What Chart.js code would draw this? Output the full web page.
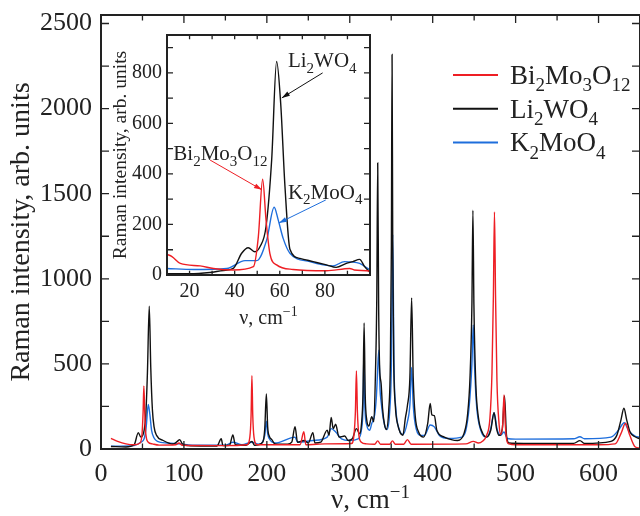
<!DOCTYPE html>
<html>
<head>
<meta charset="utf-8">
<script src="https://cdn.jsdelivr.net/npm/chart.js@4.4.0/dist/chart.umd.min.js"></script>
<style>
html, body { margin: 0; padding: 0; background: #fff; overflow: hidden; }
#wrap { position: relative; width: 640px; height: 516px; }
#main { position: absolute; left: 0; top: 0; }
#inset { position: absolute; left: 100px; top: 25px; }
</style>
</head>
<body>
<div id="wrap">
  <canvas id="main" width="640" height="516"></canvas>
  <canvas id="inset" width="280" height="315"></canvas>
</div>
<script>
// sample names, legend order
const names = ['Bi2Mo3O12', 'Li2WO4', 'K2MoO4'];
const colors = ['rgb(238,30,36)', '#111111', 'rgb(30,110,220)'];

// main spectrum: [wavenumber cm-1, intensity]
const bi2mo3o12 = [[12,63],[20,45],[30,30],[40,25],[47,35],[49.5,90],[50.8,220],[51.7,370],[52.7,220],[54,90],[57,40],[62,30],[70,23],[90,25],[94,35],[98,22],[150,20],[176,25],[179.5,70],[181,200],[182,430],[183,200],[184.5,70],[188,25],[200,25],[240,25],[244.6,101],[247,25],[260,28],[270,30],[302,32],[305,80],[306.8,220],[308,458],[309.2,220],[311,80],[314,40],[320,30],[330,28],[333.7,48],[337,28],[348,28],[351.5,48],[355,28],[365,28],[369.5,55],[374,28],[440,30],[449,45],[455,35],[460,45],[465,80],[469,180],[471.5,450],[473.2,900],[474.5,1393],[475.8,900],[477.5,400],[480,150],[482,85],[484.5,150],[486,317],[487.5,150],[489,60],[492,30],[500,25],[600,25],[620,30],[627,90],[632.6,151],[637,90],[644,13],[650,5]];

const li2wo4 = [[12,15],[30,12],[40,25],[45,96],[48,70],[52,110],[54,200],[56,450],[58.2,839],[60,480],[62,230],[64,130],[67,80],[75,50],[87,29],[92,45],[95,55],[98,30],[105,20],[120,18],[140,18],[145,60],[147,20],[155,22],[159,82],[162,25],[175,22],[182,45],[185,22],[195,40],[197.5,120],[199.4,323],[201,130],[203,75],[206,55],[210,30],[225,28],[230,40],[234,131],[237,40],[245,50],[250,35],[255.5,96],[258,35],[265,40],[272.8,111],[275,80],[277.6,186],[280,120],[283,145],[287,70],[294,76],[298,50],[303,60],[308,120],[312,90],[314,140],[316,330],[317.3,741],[318.6,320],[320.5,170],[323,135],[326.5,190],[329,160],[331,450],[332.6,900],[333.7,1680],[334.8,850],[336,480],[337.8,385],[339.5,240],[342,140],[344,115],[347,230],[349,520],[350.2,1200],[351,2318],[351.8,1200],[353,520],[355,250],[358,140],[361,95],[364,80],[367,180],[369.5,254],[372.5,420],[374.6,888],[376.5,420],[379,190],[383,100],[389,70],[394,150],[397,268],[399,200],[402,196],[405,110],[414,70],[430,50],[438,95],[442,200],[445,420],[447.3,850],[448.5,1403],[449.7,850],[452,380],[455,190],[460,95],[465,70],[470,110],[474,213],[477,120],[480,80],[484,120],[486.6,311],[489,80],[492,35],[510,33],[570,33],[577.6,49],[583,33],[615,45],[622,80],[627,170],[630.6,239],[634,170],[638,100],[644,72],[650,60]];

const k2moo4 = [[12,17],[40,20],[48,40],[52,60],[54.5,130],[57,262],[59,200],[61,110],[64,65],[68,45],[80,35],[95,30],[110,22],[150,22],[159,40],[170,25],[182,40],[190,28],[197.5,80],[199.4,164],[201,90],[203,60],[210,35],[234,70],[237,40],[255.5,50],[272.8,70],[277.6,120],[283,100],[290,60],[300,50],[310,60],[314,110],[316,250],[317,561],[318.3,240],[320.5,140],[324,110],[326.5,150],[330,200],[332,300],[333.5,450],[335,581],[336.5,350],[338,270],[340,190],[343,125],[345,115],[348,210],[350.2,500],[351.8,1262],[353.3,500],[355.5,240],[360,110],[364,85],[369.5,160],[372.5,260],[374.6,479],[376.5,260],[380,120],[386,80],[390,80],[397,141],[402,130],[408,80],[420,62],[435,70],[440,110],[444,250],[447.3,500],[448.9,728],[450.5,480],[453,250],[458,110],[465,70],[470,120],[474,213],[478,110],[482,80],[486,100],[490,62],[500,58],[570,60],[577.6,72],[583,60],[615,70],[624,110],[631,154],[636,110],[644,75],[650,70]];

// inset: low-frequency region
const bi2mo3o12Low = [[10,82],[12.2,73],[15.9,46],[24.7,36],[30.6,26],[39.4,20],[48.3,33],[50.5,152],[52.4,379],[53.9,218],[55.6,86],[58.6,40],[65.9,22],[80.7,17],[91,26],[93,20],[98.5,17],[100,15]];
const li2wo4Low = [[10,5],[20,5],[29,10],[35,18],[39.4,26],[43.1,86],[46,108],[49,92],[51.2,112],[53.9,191],[56.4,455],[58.6,845],[60.4,680],[62.3,350],[64.5,102],[68.9,66],[74.8,53],[80.7,40],[85,30],[89.5,46],[92.4,53],[95.4,62],[97.6,33],[100,10]];
const k2moo4Low = [[10,26],[21.8,22],[36.5,26],[44.6,57],[49.8,57],[54.2,139],[57.5,268],[59.3,218],[61.5,145],[64.5,86],[73.3,53],[83.6,36],[88.7,53],[95.4,46],[99,26],[100,20]];

// tick labels
const xTickLabels = [0, 100, 200, 300, 400, 500, 600];
const yTickLabels = [0, 500, 1000, 1500, 2000, 2500];
const xTickLabelsLow = [20, 40, 60, 80];
const yTickLabelsLow = [0, 200, 400, 600, 800];

// inset labels: [name, nu, intensity at text] and arrows [from nu, from I, to nu, to I]
const insetLabels = [['Li2WO4', 63.6, 851], ['Bi2Mo3O12', 12.8, 483], ['K2MoO4', 63.6, 329]];
const insetArrows = [[79, 800, 60.9, 701], [29.1, 455, 52.1, 337], [80.4, 297, 59.6, 206]];

const SERIF = '"Liberation Serif", "Times New Roman", serif';
const INK = '#222';

// draw formula with digits as subscripts, y = visual centre of capitals
function drawFormula(ctx, text, x, y, size, align) {
  const parts = text.match(/\d+|\D+/g);
  const sub = Math.round(size * 0.72);
  const isSub = p => /\d/.test(p[0]);
  let w = 0;
  parts.forEach(p => { ctx.font = (isSub(p) ? sub : size) + 'px ' + SERIF; w += ctx.measureText(p).width; });
  let cx = align === 'center' ? x - w / 2 : (align === 'right' ? x - w : x);
  const base = y + size * 0.33;
  ctx.textAlign = 'left';
  ctx.textBaseline = 'alphabetic';
  parts.forEach(p => {
    ctx.font = (isSub(p) ? sub : size) + 'px ' + SERIF;
    ctx.fillText(p, cx, base + (isSub(p) ? size * 0.27 : 0));
    cx += ctx.measureText(p).width;
  });
}

function drawUnit(ctx, x, y, size) {
  const a = 'ν, cm', b = '−1';
  const sup = Math.round(size * 0.72);
  ctx.font = size + 'px ' + SERIF;
  const wa = ctx.measureText(a).width;
  ctx.font = sup + 'px ' + SERIF;
  const wb = ctx.measureText(b).width;
  let cx = x - (wa + wb) / 2;
  const base = y + size * 0.2;
  ctx.textAlign = 'left';
  ctx.textBaseline = 'alphabetic';
  ctx.font = size + 'px ' + SERIF;
  ctx.fillText(a, cx, base);
  ctx.font = sup + 'px ' + SERIF;
  ctx.fillText(b, cx + wa, base - size * 0.38);
}

// frame with inward ticks on all four sides
function framePlugin(o) {
  return {
    id: 'frame',
    beforeDraw(chart) {
      if (!o.fill) return;
      const a = chart.chartArea, ctx = chart.ctx;
      ctx.save();
      ctx.fillStyle = '#fff';
      ctx.fillRect(a.left, a.top, a.right - a.left, a.bottom - a.top);
      ctx.restore();
    },
    afterDatasetsDraw(chart) {
      const { ctx, chartArea: a, scales: { x, y } } = chart;
      ctx.save();
      ctx.strokeStyle = INK;
      ctx.lineWidth = 1.3;
      ctx.beginPath();
      for (let v = Math.ceil(x.min / o.xStep) * o.xStep; v <= x.max; v += o.xStep) {
        const px = x.getPixelForValue(v);
        const len = (o.xMajor && v % o.xMajor === 0) ? o.len : o.len * 0.7;
        ctx.moveTo(px, a.bottom); ctx.lineTo(px, a.bottom - len);
        ctx.moveTo(px, a.top); ctx.lineTo(px, a.top + len);
      }
      for (let v = Math.ceil(y.min / o.yStep) * o.yStep; v <= y.max; v += o.yStep) {
        const py = y.getPixelForValue(v);
        ctx.moveTo(a.left, py); ctx.lineTo(a.left + o.len, py);
        ctx.moveTo(a.right, py); ctx.lineTo(a.right - o.len, py);
      }
      ctx.stroke();
      ctx.lineWidth = o.lw;
      ctx.strokeRect(a.left, a.top, a.right - a.left, a.bottom - a.top);
      ctx.fillStyle = INK;
      drawUnit(ctx, (a.left + a.right) / 2, o.unitY, o.unitSize);
      ctx.restore();
    }
  };
}

const legendPlugin = {
  id: 'formulaLegend',
  afterDraw(chart) {
    const ctx = chart.ctx;
    ctx.save();
    chart.data.datasets.forEach((ds, i) => {
      const y = 75 + i * 33.7;
      ctx.strokeStyle = ds.borderColor;
      ctx.lineWidth = 2;
      ctx.beginPath(); ctx.moveTo(453, y); ctx.lineTo(498, y); ctx.stroke();
      ctx.fillStyle = INK;
      drawFormula(ctx, ds.label, 510, y, 27, 'left');
    });
    ctx.restore();
  }
};

const annotatePlugin = {
  id: 'insetNotes',
  afterDatasetsDraw(chart) {
    const { ctx, scales: { x, y } } = chart;
    ctx.save();
    insetLabels.forEach(([t, nu, I]) => {
      ctx.fillStyle = INK;
      drawFormula(ctx, t, x.getPixelForValue(nu), y.getPixelForValue(I), 21, 'left');
    });
    insetArrows.forEach(([n0, i0, n1, i1], k) => {
      const col = colors[k === 0 ? 1 : (k === 1 ? 0 : 2)];
      const x0 = x.getPixelForValue(n0), y0 = y.getPixelForValue(i0);
      const x1 = x.getPixelForValue(n1), y1 = y.getPixelForValue(i1);
      ctx.strokeStyle = col; ctx.fillStyle = col; ctx.lineWidth = 1;
      ctx.beginPath(); ctx.moveTo(x0, y0); ctx.lineTo(x1, y1); ctx.stroke();
      const ang = Math.atan2(y1 - y0, x1 - x0);
      ctx.beginPath();
      ctx.moveTo(x1, y1);
      ctx.lineTo(x1 - 8 * Math.cos(ang) + 2.5 * Math.sin(ang), y1 - 8 * Math.sin(ang) - 2.5 * Math.cos(ang));
      ctx.lineTo(x1 - 8 * Math.cos(ang) - 2.5 * Math.sin(ang), y1 - 8 * Math.sin(ang) + 2.5 * Math.cos(ang));
      ctx.closePath(); ctx.fill();
    });
    ctx.restore();
  }
};

function toXY(arr) { return arr.map(([x, y]) => ({ x, y })); }

function makeSets(list) {
  return list.map((d, i) => ({
    label: names[i],
    data: toXY(d),
    borderColor: colors[i],
    borderWidth: 1.4,
    pointRadius: 0,
    fill: false,
    cubicInterpolationMode: 'monotone'
  }));
}

// fixed-size axis; label overhang padding dropped so layout padding sets the box
function axis(min, max, labels, size, pad, dim, extra) {
  return Object.assign({
    type: 'linear', min: min, max: max,
    grid: { display: false, drawTicks: false },
    border: { display: false },
    ticks: { color: INK, font: { family: SERIF, size: size }, padding: pad, autoSkip: false, maxRotation: 0, callback: v => String(v) },
    afterBuildTicks: s => { s.ticks = labels.map(v => ({ value: v })); },
    afterFit: s => {
      if (s.isHorizontal()) s.height = dim; else s.width = dim;
      s.paddingTop = 0; s.paddingBottom = 0; s.paddingLeft = 0; s.paddingRight = 0;
    }
  }, extra || {});
}

new Chart(document.getElementById('main'), {
  type: 'line',
  data: { datasets: makeSets([bi2mo3o12, li2wo4, k2moo4]) },
  options: {
    responsive: false,
    animation: false,
    layout: { padding: { top: 15, right: 0, left: 0, bottom: 0 } },
    plugins: { legend: { display: false }, tooltip: { enabled: false } },
    scales: {
      x: axis(0, 650, xTickLabels, 26, 10, 67),
      y: axis(0, 2550, yTickLabels, 26, 9, 101, {
        title: { display: true, text: 'Raman intensity, arb. units', color: INK, font: { family: SERIF, size: 28 }, padding: { top: 5, bottom: 0 } }
      })
    }
  },
  plugins: [framePlugin({ xStep: 50, xMajor: 100, yStep: 250, len: 8, lw: 2, unitY: 503, unitSize: 27 }), legendPlugin]
});

new Chart(document.getElementById('inset'), {
  type: 'line',
  data: { datasets: makeSets([bi2mo3o12Low, li2wo4Low, k2moo4Low]) },
  options: {
    responsive: false,
    animation: false,
    layout: { padding: { top: 10, right: 10, left: 0, bottom: 0 } },
    plugins: { legend: { display: false }, tooltip: { enabled: false } },
    scales: {
      x: axis(10, 100, xTickLabelsLow, 20, 5, 65),
      y: axis(0, 950, yTickLabelsLow, 20, 5, 67, {
        title: { display: true, text: 'Raman intensity, arb. units', color: INK, font: { family: SERIF, size: 19.5 }, padding: { top: 9, bottom: 0 } }
      })
    }
  },
  plugins: [framePlugin({ xStep: 10, yStep: 100, len: 6, lw: 2, fill: true, unitY: 295, unitSize: 20 }), annotatePlugin]
});
</script>
</body>
</html>
